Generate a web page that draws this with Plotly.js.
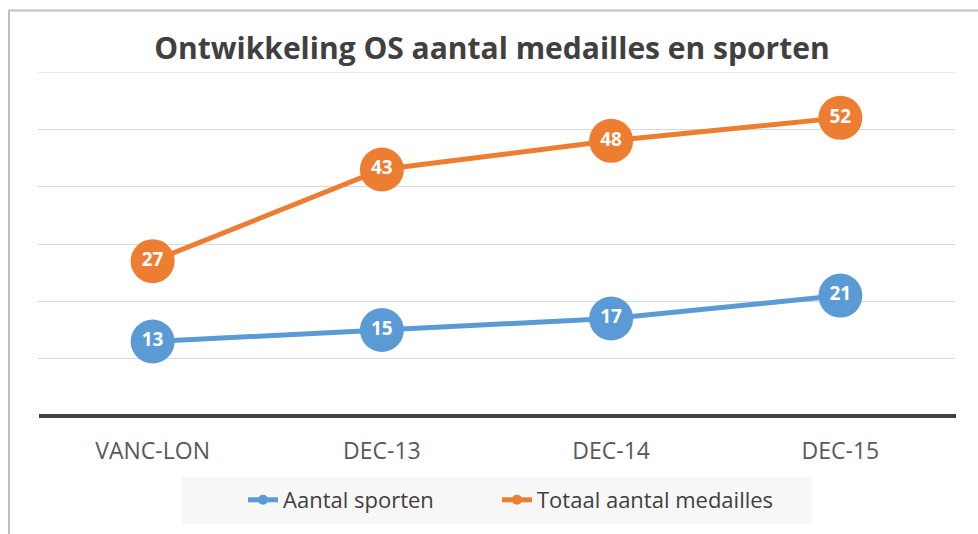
<!DOCTYPE html>
<html>
<head>
<meta charset="utf-8">
<script src="https://cdn.plot.ly/plotly-3.0.1.min.js"></script>
<style>html,body{margin:0;padding:0;background:#fff;}#chart{width:978px;height:534px;}</style>
</head>
<body>
<div id="chart"></div>
<script>
const categories = ["VANC-LON", "DEC-13", "DEC-14", "DEC-15"];
const seriesNames = ["Aantal sporten", "Totaal aantal medailles"];
const sporten = [13, 15, 17, 21];
const medailles = [27, 43, 48, 52];
const titleText = "Ontwikkeling OS aantal medailles en sporten";
const yMax = 60;

const blue = "#5b9bd5", orange = "#ed7d31";
const FONT = "'Open Sans', 'Noto Sans', sans-serif";

function mainTrace(vals, color) {
  return {
    x: categories, y: vals, type: "scatter", mode: "lines+markers+text",
    line: {color: color, width: 5},
    marker: {color: color, size: 44, line: {width: 0}},
    text: vals.map(String), textposition: "middle center",
    textfont: {family: FONT, size: 19, color: "#ffffff", weight: "bold"},
    showlegend: false, hoverinfo: "skip", cliponaxis: false
  };
}
function legendTrace(name, color, legendId) {
  return {
    x: [null], y: [null], type: "scatter", mode: "lines+markers", name: name,
    line: {color: color, width: 5}, marker: {color: color, size: 10},
    showlegend: true, legend: legendId
  };
}

const W = 978, H = 534, L = 38, R = 23, T = 72, B = 118;
const pw = W - L - R, ph = H - T - B;
const px = v => (v - L) / pw;
const py = v => (H - B - v) / ph;

function legendBox(xpx) {
  return {orientation: "h", x: px(xpx), xanchor: "left", y: py(500), yanchor: "middle",
          bgcolor: "rgba(0,0,0,0)", font: {family: FONT, size: 22, color: "#404040"},
          itemwidth: 30};
}

const layout = {
  width: W, height: H,
  margin: {l: L, r: R, t: T, b: B},
  paper_bgcolor: "#ffffff", plot_bgcolor: "#ffffff",
  title: {text: "<b>" + titleText + "</b>", font: {family: FONT, size: 30, color: "#404040"},
          x: 0.503, xanchor: "center", y: 1 - 48 / H, yanchor: "middle", yref: "container"},
  xaxis: {type: "category", range: [-0.5, 3.5], showgrid: false, zeroline: false,
          showline: false, ticks: "outside", ticklen: 14, tickcolor: "rgba(0,0,0,0)",
          tickfont: {family: FONT, size: 23, color: "#595959"}, fixedrange: true},
  yaxis: {range: [0, yMax], dtick: 10, showgrid: true, gridcolor: "#d9d9d9", gridwidth: 1,
          zeroline: false, showticklabels: false, showline: false, fixedrange: true},
  legend: legendBox(243),
  legend2: legendBox(497),
  shapes: [
    {type: "rect", xref: "paper", yref: "paper", x0: px(182), x1: px(812), y0: py(524), y1: py(477),
     fillcolor: "#f7f7f7", line: {width: 0}, layer: "below"},
    {type: "line", xref: "paper", yref: "y", x0: 0, x1: 1, y0: yMax, y1: yMax,
     line: {color: "#d9d9d9", width: 1}, layer: "below"},
    {type: "line", xref: "paper", yref: "paper", x0: px(39), x1: px(956), y0: 0, y1: 0,
     line: {color: "#404040", width: 4}},
    {type: "line", xref: "paper", yref: "paper", x0: px(8), x1: px(990), y0: py(10.5), y1: py(10.5),
     line: {color: "#bfbfbf", width: 2}},
    {type: "line", xref: "paper", yref: "paper", x0: px(9), x1: px(9), y0: py(10.5), y1: py(560),
     line: {color: "#bfbfbf", width: 2}}
  ]
};

Plotly.newPlot("chart", [
  mainTrace(sporten, blue), mainTrace(medailles, orange),
  legendTrace(seriesNames[0], blue, "legend"), legendTrace(seriesNames[1], orange, "legend2")
], layout, {displayModeBar: false, staticPlot: true});
</script>
</body>
</html>
